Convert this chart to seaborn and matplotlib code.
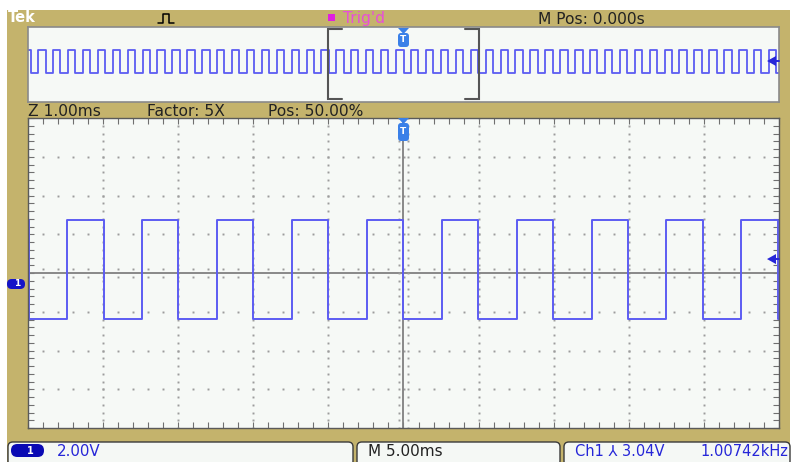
import numpy as np
import pandas as pd
import seaborn as sns
import matplotlib.pyplot as plt
from matplotlib.patches import Rectangle, FancyBboxPatch, Polygon
from matplotlib.lines import Line2D

# falling / rising edge times (ms), trigger at 0
fall_ms = [-24.83, -23.83, -22.84, -21.85, -20.85, -19.86, -18.87, -17.87, -16.88,
           -15.89, -14.90, -13.90, -12.91, -11.92, -10.92, -9.93, -8.94, -7.94,
           -6.95, -5.96, -4.99, -3.99, -3.00, -2.00, -1.00, 0.00, 0.99, 1.99,
           2.99, 3.99, 4.99, 5.96, 6.95, 7.94, 8.94, 9.93, 10.92, 11.92, 12.91,
           13.90, 14.90, 15.89, 16.88, 17.87, 18.87, 19.86, 20.85, 21.85, 22.84,
           23.83, 24.83]
rise_ms = [-24.33, -23.33, -22.34, -21.35, -20.35, -19.36, -18.37, -17.37, -16.38,
           -15.39, -14.40, -13.40, -12.41, -11.42, -10.42, -9.43, -8.44, -7.44,
           -6.45, -5.46, -4.48, -3.48, -2.48, -1.49, -0.49, 0.51, 1.51, 2.51,
           3.49, 4.49, 5.47, 6.46, 7.45, 8.44, 9.44, 10.43, 11.42, 12.42, 13.41,
           14.40, 15.40, 16.39, 17.38, 18.37, 19.37, 20.36, 21.35, 22.35, 23.34,
           24.33]
high_v = 3.3
low_v = -1.8
volts_per_div = 2.0
ground_div = -0.28
trig_div = 0.36

top_labels = ["Z 1.00ms", "Factor: 5X", "Pos: 50.00%"]
status_ch = "2.00V"
status_time = "M 5.00ms"
status_trig = "Ch1 \u2144 3.04V"
status_freq = "1.00742kHz"

W, H = 796, 462
OLIVE = "#c4b36c"
SCREEN = "#f6f9f6"
TRACE = "#5c5cf2"
BLUE = "#2626d8"
MARK = "#3a80e8"

# build step trace
ev = [(t, low_v) for t in fall_ms] + [(t, high_v) for t in rise_ms]
ev.sort()
t = [-25.5] + [e[0] for e in ev] + [25.5]
v = [high_v] + [e[1] for e in ev] + [ev[-1][1]]
df = pd.DataFrame({"t": t, "div": np.array(v) / volts_per_div + ground_div})

sns.set_style("white")
plt.rcParams["font.family"] = ["DejaVu Sans"]


def fx(x):
    return x / W


def fy(y):
    return 1 - y / H


fig = plt.figure(figsize=(W / 100, H / 100), dpi=100, facecolor="white")
fig.patches.append(Rectangle((fx(7), 0), fx(790) - fx(7), fy(10), transform=fig.transFigure,
                             facecolor=OLIVE, edgecolor="none", zorder=-10))

# overview panel
ax_ov = fig.add_axes([fx(28), fy(102), fx(779) - fx(28), fy(27) - fy(102)])
ax_ov.set_facecolor(SCREEN)
sns.lineplot(data=df, x="t", y="div", ax=ax_ov, color=TRACE, lw=1.3,
             drawstyle="steps-post", estimator=None, sort=False)
ax_ov.set_xlim(-25, 25)
ax_ov.set_ylim(-4.39, 3.92)
ax_ov.set_xticks([])
ax_ov.set_yticks([])
ax_ov.set_xlabel("")
ax_ov.set_ylabel("")
for s in ax_ov.spines.values():
    s.set_color("#8a8a8a")
    s.set_linewidth(1.2)
# zoom window bracket
for x0, x1 in [(-5, -4.1), (5, 4.1)]:
    ax_ov.plot([x1, x0, x0, x1], [-4.1, -4.1, 3.7, 3.7], color="#555555", lw=1.5,
               solid_joinstyle="miter")

# main panel
ax = fig.add_axes([fx(28), fy(428), fx(779) - fx(28), fy(118) - fy(428)])
ax.set_facecolor(SCREEN)
ax.set_xlim(-5, 5)
ax.set_ylim(-4, 4)
gx = np.arange(-5, 5.001, 0.2)
gy = np.arange(-4, 4.001, 0.2)
for k in [-4, -3, -2, -1, 1, 2, 3, 4]:
    ax.plot(np.full_like(gy, k), gy, ls="none", marker="s", ms=1.4, mew=0, color="#9c9c9c")
for k in [-3, -2, -1, 1, 2, 3]:
    ax.plot(gx, np.full_like(gx, k), ls="none", marker="s", ms=1.4, mew=0, color="#9c9c9c")
ax.axhline(0, color="#808080", lw=1.3)
ax.axvline(0, color="#808080", lw=1.3)
for d in [-0.065, 0.065]:
    ax.plot(np.full_like(gy, d), gy, ls="none", marker="s", ms=1.4, mew=0, color="#9c9c9c")
for d in [-0.11, 0.11]:
    ax.plot(gx, np.full_like(gx, d), ls="none", marker="s", ms=1.4, mew=0, color="#9c9c9c")
sns.lineplot(data=df, x="t", y="div", ax=ax, color=TRACE, lw=1.4,
             drawstyle="steps-post", estimator=None, sort=False)
ax.set_xlabel("")
ax.set_ylabel("")
ax.set_xticks(np.arange(-5, 5.001, 1))
ax.set_xticks(gx, minor=True)
ax.set_yticks(np.arange(-4, 4.001, 1))
ax.set_yticks(gy, minor=True)
ax.tick_params(which="both", direction="in", length=4, width=0.8, color="#707070",
               bottom=True, left=True, top=True, right=True,
               labelbottom=False, labelleft=False)
for s in ax.spines.values():
    s.set_color("#5a5a5a")
    s.set_linewidth(1.0)

# top header texts
fig.text(fx(8), fy(18), "Tek", color="white", fontsize=10.5, fontweight="bold", va="center")
fig.add_artist(Line2D([fx(158), fx(163), fx(163), fx(169), fx(169), fx(174)],
                      [fy(23), fy(23), fy(14), fy(14), fy(23), fy(23)],
                      color="black", lw=1.1, transform=fig.transFigure))
fig.patches.append(Rectangle((fx(328), fy(21)), fx(7), 7 / H, transform=fig.transFigure,
                             facecolor="#e020e0", edgecolor="none", zorder=5))
fig.text(fx(343), fy(18), "Trig'd", color="#e84fd8", fontsize=11.2, va="center")
fig.text(fx(538), fy(19), "M Pos: 0.000s", color="#222222", fontsize=11.2, va="center")
for xp, lab in zip([28, 147, 268], top_labels):
    fig.text(fx(xp), fy(112), lab, color="#222222", fontsize=11.2, va="center")

# trigger markers
for ytop, ybot in [(118, 141), (28, 47)]:
    fig.patches.append(Polygon([(fx(398), fy(ytop)), (fx(409), fy(ytop)), (fx(403.5), fy(ytop + 6))],
                               closed=True, transform=fig.transFigure, facecolor=MARK,
                               edgecolor="none", zorder=5))
    fig.patches.append(FancyBboxPatch((fx(398), fy(ybot)), fx(11), (ybot - ytop - 5) / H,
                                      boxstyle="round,pad=0,rounding_size=0.004",
                                      mutation_aspect=W / H, transform=fig.transFigure,
                                      facecolor=MARK, edgecolor="none", zorder=5))
    fig.text(fx(403.5), fy((ytop + 5 + ybot) / 2), "T", color="white", fontsize=6.5,
             fontweight="bold", ha="center", va="center", zorder=6)

# trigger level arrows on the right
for yc in [273 - trig_div * 38.75, 61]:
    fig.patches.append(Polygon([(fx(767), fy(yc)), (fx(776), fy(yc - 5)), (fx(776), fy(yc + 5))],
                               closed=True, transform=fig.transFigure, facecolor=BLUE,
                               edgecolor="none", zorder=5))
    fig.add_artist(Line2D([fx(770), fx(779)], [fy(yc), fy(yc)], color=BLUE, lw=1.4,
                          transform=fig.transFigure, zorder=5))

# channel ground marker
fig.patches.append(FancyBboxPatch((fx(7), fy(289)), fx(18), 10 / H,
                                  boxstyle="round,pad=0,rounding_size=0.006",
                                  mutation_aspect=W / H, transform=fig.transFigure,
                                  facecolor="#1414c8", edgecolor="none", zorder=5))
fig.text(fx(17), fy(284), "1", color="white", fontsize=6.5, fontweight="bold",
         ha="center", va="center", zorder=6)

# status bar boxes
for x0, x1 in [(8, 353), (357, 560), (564, 790)]:
    fig.patches.append(FancyBboxPatch((fx(x0), fy(466)), fx(x1 - x0), 24 / H,
                                      boxstyle="round,pad=0,rounding_size=0.006",
                                      mutation_aspect=W / H, transform=fig.transFigure,
                                      facecolor="#f5f8f5", edgecolor="#3a3a3a", lw=1.0, zorder=5))
fig.patches.append(FancyBboxPatch((fx(11), fy(457)), fx(33), 13 / H,
                                  boxstyle="round,pad=0,rounding_size=0.008",
                                  mutation_aspect=W / H, transform=fig.transFigure,
                                  facecolor="#0a0ab4", edgecolor="none", zorder=6))
fig.text(fx(30), fy(450.5), "1", color="white", fontsize=7, fontweight="bold",
         ha="center", va="center", zorder=7)
fig.text(fx(57), fy(452), status_ch, color=BLUE, fontsize=10.8, va="center", zorder=7)
fig.text(fx(368), fy(452), status_time, color="#222222", fontsize=11, va="center", zorder=7)
fig.text(fx(575), fy(452), status_trig, color=BLUE, fontsize=10.5, va="center", zorder=7)
fig.text(fx(700), fy(452), status_freq, color=BLUE, fontsize=10.5, va="center", zorder=7)

fig.savefig("out.png", dpi=100, facecolor="white")
